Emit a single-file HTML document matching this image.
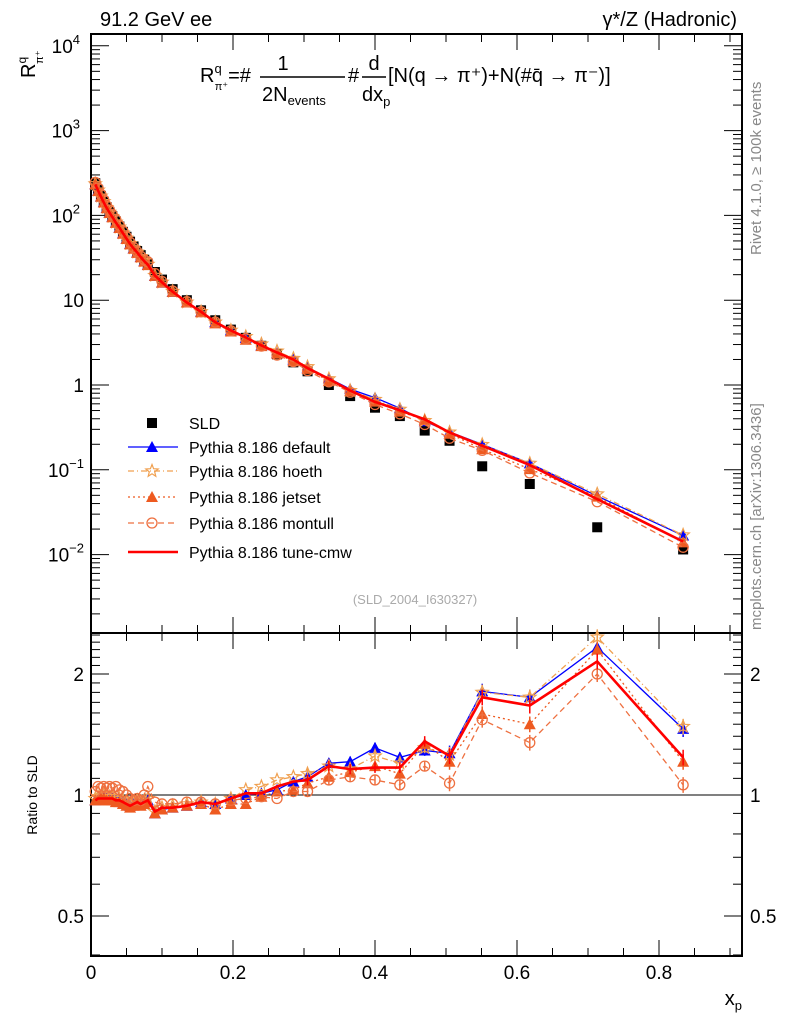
<!DOCTYPE html>
<html><head><meta charset="utf-8"><style>
body{margin:0;background:#fff}
svg{display:block;font-family:"Liberation Sans",sans-serif}
</style></head><body>
<svg id="c" width="786" height="1024" viewBox="0 0 786 1024" xmlns="http://www.w3.org/2000/svg">
<text x="100" y="26" font-size="20">91.2 GeV ee</text>
<text x="737" y="26" font-size="20" text-anchor="end">γ*/Z (Hadronic)</text>
<g font-size="20">
<text x="200" y="82">R<tspan font-size="13" dy="-9">q</tspan><tspan font-size="11" dx="-7" dy="17">π⁺</tspan><tspan dy="-8">=#</tspan></text>
<text x="283" y="70" font-size="20" text-anchor="middle">1</text>
<line x1="260" y1="77" x2="345" y2="77" stroke="#000" stroke-width="1.5"/>
<text x="262" y="101">2N<tspan font-size="13" dy="4">events</tspan></text>
<text x="348" y="82">#</text>
<text x="374" y="70" text-anchor="middle">d</text>
<line x1="362" y1="77" x2="386" y2="77" stroke="#000" stroke-width="1.5"/>
<text x="362" y="101">dx<tspan font-size="13" dy="5">p</tspan></text>
<text x="388" y="82">[N(q → π⁺)+N(#q̄ → π⁻)]</text>
</g>
<text transform="translate(761,255) rotate(-90)" font-size="15" fill="#888">Rivet 4.1.0, ≥ 100k events</text>
<text transform="translate(761,630) rotate(-90)" font-size="15" fill="#888">mcplots.cern.ch [arXiv:1306.3436]</text>
<text x="415" y="604" font-size="13" fill="#aaa" text-anchor="middle">(SLD_2004_I630327)</text>
<text transform="translate(35,78) rotate(-90)" font-size="20">R<tspan font-size="12" dy="-9">q</tspan><tspan font-size="11" dx="-7" dy="17">π⁺</tspan></text>
<text transform="translate(37,795) rotate(-90)" font-size="14" text-anchor="middle">Ratio to SLD</text>
<text x="742" y="1005" font-size="20" text-anchor="end">x<tspan font-size="13" dy="5">p</tspan></text>
<g id="g"></g>
</svg>
<script>
const xs=[0.006,0.010,0.014,0.018,0.022,0.026,0.030,0.035,0.040,0.045,0.050,0.055,0.060,0.065,0.070,0.075,0.080,0.090,0.100,0.115,0.135,0.155,0.175,0.197,0.218,0.240,0.262,0.285,0.305,0.335,0.365,0.400,0.435,0.470,0.505,0.551,0.618,0.713,0.834];
const sld=[240,200,170,145,125,110,98,85,74,64,56,49,43,38,34,30,27,21.5,17.5,13.5,10,7.6,5.8,4.5,3.6,2.9,2.3,1.85,1.45,1.0,0.74,0.54,0.43,0.29,0.22,0.11,0.068,0.021,0.0115];
const rDefault=[0.97,0.98,0.98,0.99,0.98,0.98,0.98,0.97,0.97,0.96,0.95,0.94,0.95,0.96,0.95,0.96,0.97,0.90,0.92,0.93,0.94,0.96,0.95,0.98,1.00,1.01,1.03,1.08,1.11,1.20,1.21,1.31,1.24,1.29,1.27,1.81,1.75,2.33,1.46];
const rHoeth=[0.98,0.99,0.99,1.00,0.99,0.99,0.99,0.98,0.98,0.97,0.96,0.95,0.96,0.97,0.96,0.97,0.98,0.91,0.93,0.94,0.95,0.96,0.95,0.98,1.03,1.05,1.09,1.11,1.13,1.18,1.16,1.25,1.20,1.31,1.26,1.80,1.75,2.47,1.48];
const rJetset=[0.97,0.97,0.98,0.98,0.97,0.97,0.97,0.96,0.96,0.95,0.94,0.93,0.94,0.95,0.94,0.95,0.96,0.90,0.92,0.93,0.94,0.95,0.92,0.95,0.95,0.99,1.02,1.03,1.07,1.11,1.14,1.18,1.13,1.34,1.21,1.59,1.50,2.30,1.21];
const rMontull=[1.02,1.05,1.04,1.05,1.04,1.05,1.04,1.05,1.03,1.02,1.00,0.98,0.97,0.98,0.97,1.00,1.05,0.96,0.95,0.95,0.96,0.96,0.95,0.97,0.98,0.99,0.98,1.02,1.02,1.09,1.11,1.09,1.06,1.18,1.07,1.54,1.35,2.00,1.06];
const rCmw=[0.97,0.98,0.98,0.98,0.98,0.98,0.98,0.97,0.97,0.96,0.95,0.94,0.95,0.96,0.95,0.96,0.97,0.91,0.93,0.93,0.94,0.96,0.95,0.98,1.01,1.01,1.05,1.08,1.09,1.18,1.16,1.17,1.17,1.36,1.25,1.75,1.67,2.15,1.24];
const xTicks=[0,0.2,0.4,0.6,0.8];
const ratioTicks=[0.5,1,2];

const g=document.getElementById('g');const NS='http://www.w3.org/2000/svg';
const L=91,R=742,T=34,B=633,RT=633,RB=956;
const X=v=>L+v*710;
const Y=v=>385-Math.log10(v)*84.8;
const RY=v=>795-Math.log10(v)*402;
function mk(t,a,p){const e=document.createElementNS(NS,t);for(const k in a)e.setAttribute(k,a[k]);(p||g).appendChild(e);return e;}
// frames
let f=mk('rect',{x:L,y:T,width:R-L,height:B-T,fill:'none',stroke:'#000','stroke-width':2});


f=mk('rect',{x:L,y:RT,width:R-L,height:RB-RT,fill:'none',stroke:'#000','stroke-width':2});


// x ticks
for(let v=0;v<=0.9001;v+=0.05){const major=Math.abs(v*10-Math.round(v*10))<1e-6&&Math.round(v*10)%2==0;const len=major?16:8;const x=X(v);
 mk('line',{x1:x,y1:B,x2:x,y2:B-len,stroke:'#000'});mk('line',{x1:x,y1:T,x2:x,y2:T+len,stroke:'#000'});
 mk('line',{x1:x,y1:RB,x2:x,y2:RB-len,stroke:'#000'});mk('line',{x1:x,y1:RT,x2:x,y2:RT+len,stroke:'#000'});}
xTicks.forEach(v=>{const t=mk('text',{x:X(v),y:979,'font-size':19,'text-anchor':'middle'});t.textContent=v===0?'0':v.toFixed(1);

});
// main y ticks
for(let d=-3;d<=4;d++){for(let m=1;m<10;m++){const v=m*Math.pow(10,d);const y=Y(v);if(y<T||y>B)continue;const len=m==1?18:9;
 mk('line',{x1:L,y1:y,x2:L+len,y2:y,stroke:'#000'});mk('line',{x1:R,y1:y,x2:R-len,y2:y,stroke:'#000'});}}
[[4,'10','4'],[3,'10','3'],[2,'10','2'],[1,'10',''],[0,'1',''],[-1,'10','−1'],[-2,'10','−2']].forEach(a=>{
 const t=mk('text',{x:84,y:Y(Math.pow(10,a[0]))+7,'font-size':19,'text-anchor':'end'});
 
 
 if(a[2]){t.textContent=a[1];const s=mk('tspan',{'font-size':13,dy:-9},t);s.textContent=a[2];t.setAttribute('x',a[2].length>1?84:80);t.setAttribute('text-anchor','end');}else t.textContent=a[1];});
// ratio y ticks
[0.4,0.5,0.6,0.7,0.8,0.9,1,1.1,1.2,1.3,1.4,1.5,1.6,1.7,1.8,1.9,2,2.1,2.2,2.3,2.4,2.5].forEach(v=>{const y=RY(v);if(y<RT||y>RB)return;const len=(v==0.5||v==1||v==2)?18:9;
 mk('line',{x1:L,y1:y,x2:L+len,y2:y,stroke:'#000'});mk('line',{x1:R,y1:y,x2:R-len,y2:y,stroke:'#000'});});
ratioTicks.forEach(v=>{[[84,'end'],[750,'start']].forEach(p=>{const t=mk('text',{x:p[0],y:RY(v)+7,'font-size':19,'text-anchor':p[1]});t.textContent=String(v);

});});
let ln=mk('line',{x1:L,y1:RY(1),x2:R,y2:RY(1),stroke:'#000','stroke-width':1});



function marker(type,x,y,col,p){
 if(type=='sq')return mk('rect',{x:x-5,y:y-5,width:10,height:10,fill:'#000'},p);
 if(type=='tri')return mk('polygon',{points:`${x},${y-6} ${x-6},${y+5} ${x+6},${y+5}`,fill:col},p);
 if(type=='star'){let pts=[];for(let i=0;i<10;i++){const r=i%2?2.8:6.5,a=-Math.PI/2+i*Math.PI/5;pts.push((x+r*Math.cos(a)).toFixed(1)+','+(y+r*Math.sin(a)).toFixed(1));}return mk('polygon',{points:pts.join(' '),fill:'none',stroke:col,'stroke-width':1.2},p);}
 if(type=='circ')return mk('circle',{cx:x,cy:y,r:5,fill:'none',stroke:col,'stroke-width':1.3},p);
 return null;}
const series=[
 {name:'default',r:rDefault,col:'#0000ff',dash:'',w:1.3,m:'tri',label:'Pythia 8.186 default'},
 {name:'hoeth',r:rHoeth,col:'#f0a050',dash:'6,3,1,3',w:1.3,m:'star',label:'Pythia 8.186 hoeth'},
 {name:'jetset',r:rJetset,col:'#ee5a20',dash:'2,3',w:1.3,m:'tri',label:'Pythia 8.186 jetset'},
 {name:'montull',r:rMontull,col:'#ee7040',dash:'6,4',w:1.3,m:'circ',label:'Pythia 8.186 montull'},
 {name:'cmw',r:rCmw,col:'#ff0000',dash:'',w:2.6,m:null,label:'Pythia 8.186 tune-cmw'}];
// SLD squares main
const sg=mk('g',{});


xs.forEach((x,i)=>marker('sq',X(x),Y(sld[i]),'#000',sg));
series.forEach(s=>{
 const gm=mk('g',{});
 
 
 const pm=xs.map((x,i)=>X(x).toFixed(1)+','+Y(sld[i]*s.r[i]).toFixed(1)).join(' ');
 const pr=xs.map((x,i)=>X(x).toFixed(1)+','+RY(s.r[i]).toFixed(1)).join(' ');
 mk('polyline',{points:pm,fill:'none',stroke:s.col,'stroke-width':s.w,'stroke-dasharray':s.dash},gm);
 mk('polyline',{points:pr,fill:'none',stroke:s.col,'stroke-width':s.w,'stroke-dasharray':s.dash},gm);
 xs.forEach((x,i)=>{if(x>0.3){const e=0.03*s.r[i]*(x>0.5?1.5:1);mk('line',{x1:X(x),x2:X(x),y1:RY(s.r[i]+e),y2:RY(s.r[i]-e),stroke:s.col,'stroke-width':1.5},gm);}
  if(s.m){marker(s.m,X(x),Y(sld[i]*s.r[i]),s.col,gm);marker(s.m,X(x),RY(s.r[i]),s.col,gm);}});
});
// legend
const lg=mk('g',{});


const ly=[423,447,471,497,523,552];
marker('sq',152,ly[0],'#000',lg);
let t=mk('text',{x:189,y:ly[0]+6,'font-size':16},lg);t.textContent='SLD';
series.forEach((s,i)=>{const y=ly[i+1];
 mk('line',{x1:128,x2:178,y1:y,y2:y,stroke:s.col,'stroke-width':s.w,'stroke-dasharray':s.dash},lg);
 if(s.m)marker(s.m,152,y,s.col,lg);
 const tt=mk('text',{x:189,y:y+6,'font-size':16},lg);tt.textContent=s.label;
 
 });
</script>
</body></html>
